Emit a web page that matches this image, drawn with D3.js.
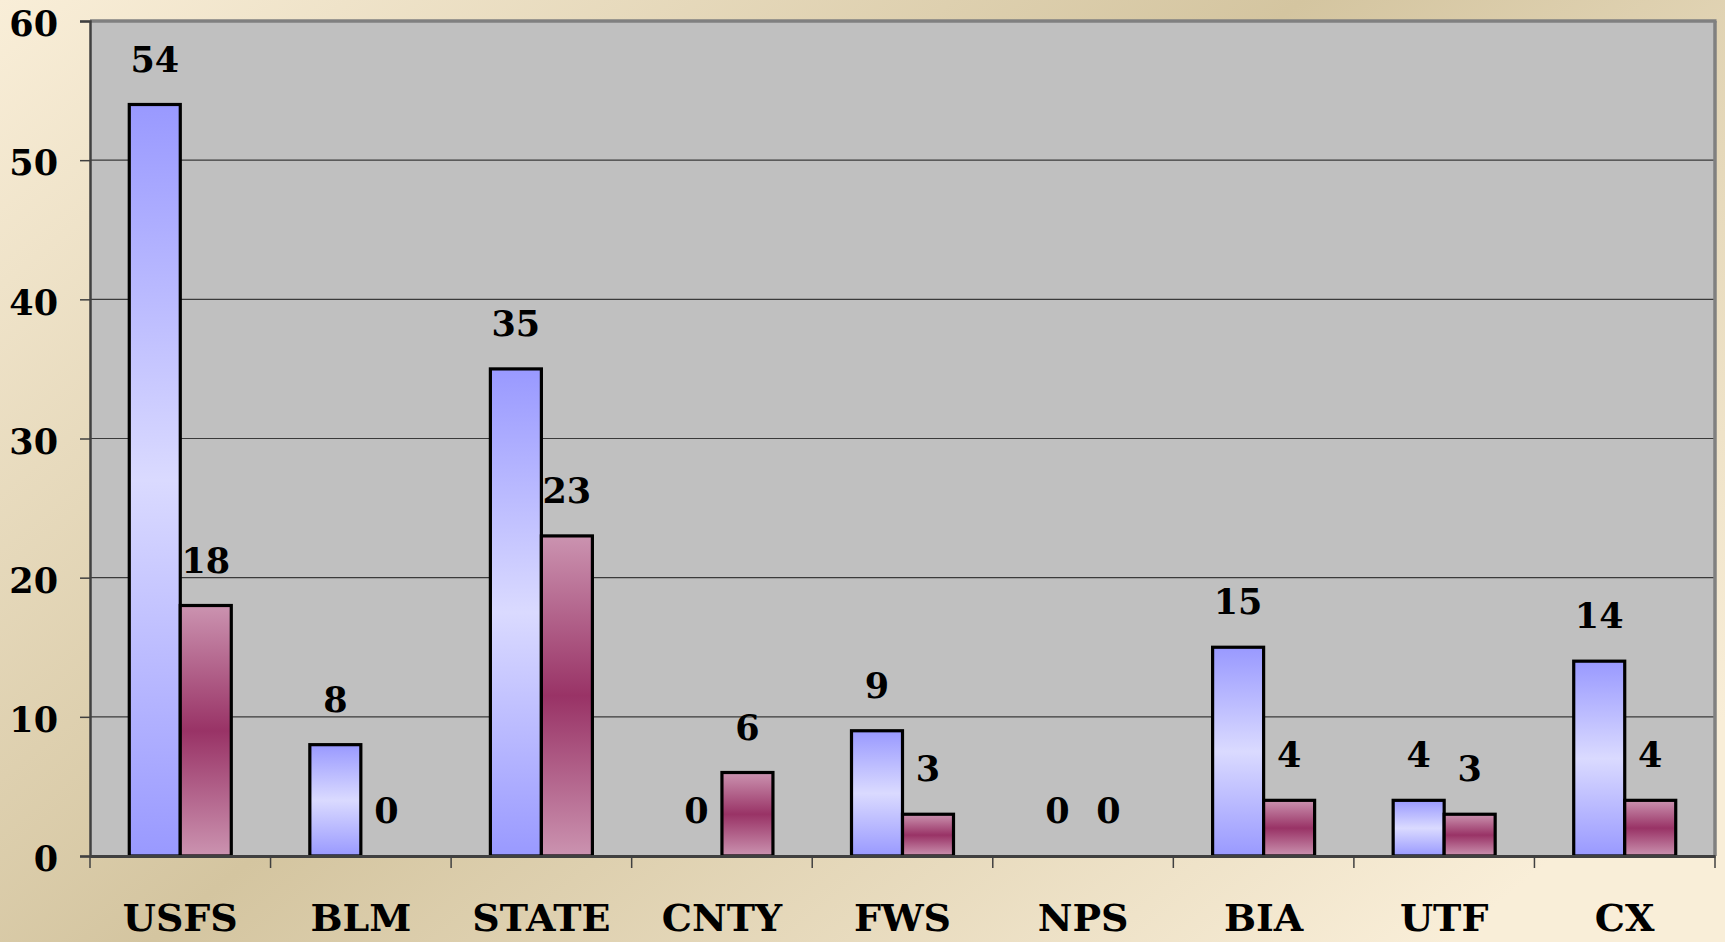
<!DOCTYPE html>
<html>
<head>
<meta charset="utf-8">
<script src="https://cdn.jsdelivr.net/npm/d3@7"></script>
<style>
html,body{margin:0;padding:0;overflow:hidden;}
svg{display:block;}
</style>
</head>
<body>
<svg id="chart" width="1725" height="942"></svg>
<script>
const categories = ["USFS","BLM","STATE","CNTY","FWS","NPS","BIA","UTF","CX"];
const seriesNames = ["Series 1","Series 2"];
const series1 = [54, 8, 35, 0, 9, 0, 15, 4, 14];
const series2 = [18, 0, 23, 6, 3, 0, 4, 3, 4];
const yTicks = [0,10,20,30,40,50,60];

const W = 1725, H = 942;
const m = {left: 90, right: 10, top: 21, bottom: 86};
const svg = d3.select("#chart");
const defs = svg.append("defs");

// background gradient
const bg = defs.append("linearGradient").attr("id","bg")
  .attr("gradientUnits","userSpaceOnUse")
  .attr("x1",0).attr("y1",0).attr("x2",1044).attr("y2",1276);
bg.append("stop").attr("offset","0").attr("stop-color","#f9eed8");
bg.append("stop").attr("offset","0.5").attr("stop-color","#d4c5a0");
bg.append("stop").attr("offset","1").attr("stop-color","#f9eed8");
svg.append("rect").attr("width",W).attr("height",H).attr("fill","url(#bg)");

const gBlue = defs.append("linearGradient").attr("id","gBlue").attr("x1",0).attr("y1",0).attr("x2",0).attr("y2",1);
gBlue.append("stop").attr("offset","0").attr("stop-color","#9999ff");
gBlue.append("stop").attr("offset","0.5").attr("stop-color","#dadaff");
gBlue.append("stop").attr("offset","1").attr("stop-color","#9999ff");
const gPink = defs.append("linearGradient").attr("id","gPink").attr("x1",0).attr("y1",0).attr("x2",0).attr("y2",1);
gPink.append("stop").attr("offset","0").attr("stop-color","#cb93b0");
gPink.append("stop").attr("offset","0.5").attr("stop-color","#993366");
gPink.append("stop").attr("offset","1").attr("stop-color","#cb93b0");
const fills = ["url(#gBlue)","url(#gPink)"];

const plotL = m.left, plotR = W - m.right, plotT = m.top, plotB = H - m.bottom;
const x0 = d3.scaleBand().domain(categories).range([plotL, plotR]).paddingInner(0).paddingOuter(0);
const x1 = d3.scaleBand().domain(seriesNames).range([0, x0.bandwidth()]).paddingInner(0).paddingOuter(0.77);
const y = d3.scaleLinear().domain([0,60]).range([plotB, plotT]);

// plot area
svg.append("rect").attr("x",plotL).attr("y",plotT).attr("width",plotR-plotL).attr("height",plotB-plotT).attr("fill","#c0c0c0");

// gridlines
svg.append("g").selectAll("line").data(yTicks.filter(d=>d>0 && d<60)).join("line")
  .attr("x1",plotL).attr("x2",plotR).attr("y1",d=>y(d)).attr("y2",d=>y(d))
  .attr("stroke","#3a3a3a").attr("stroke-width",1.2);

// borders top/right
svg.append("line").attr("x1",plotL).attr("x2",plotR+1.5).attr("y1",plotT).attr("y2",plotT).attr("stroke","#808080").attr("stroke-width",3.5);
svg.append("line").attr("x1",plotR).attr("x2",plotR).attr("y1",plotT).attr("y2",plotB).attr("stroke","#808080").attr("stroke-width",3.5);

// bars
const data = categories.map((c,i)=>({cat:c, vals:[series1[i], series2[i]]}));
const groups = svg.append("g").selectAll("g").data(data).join("g")
  .attr("transform", d=>`translate(${x0(d.cat)},0)`);
groups.selectAll("rect").data(d=>d.vals.map((v,j)=>({v, s:seriesNames[j], j}))).join("rect")
  .filter(d=>d.v>0)
  .attr("x", d=>x1(d.s)).attr("width", x1.bandwidth())
  .attr("y", d=>y(d.v)).attr("height", d=>y(0)-y(d.v))
  .attr("fill", d=>fills[d.j]).attr("stroke","#000").attr("stroke-width",3.2);

// value labels
groups.selectAll("text").data(d=>d.vals.map((v,j)=>({v, s:seriesNames[j], j}))).join("text")
  .attr("x", d=>x1(d.s)+x1.bandwidth()/2)
  .attr("y", d=>y(d.v)-33)
  .attr("text-anchor","middle")
  .attr("font-family","'DejaVu Serif', serif").attr("font-weight","bold").attr("font-size",35)
  .attr("fill","#000")
  .text(d=>d.v);

// y axis
const yAxis = d3.axisLeft(y).tickValues(yTicks).tickSize(10).tickPadding(22).tickFormat(d3.format("d"));
const gy = svg.append("g").attr("transform",`translate(${plotL},0)`).call(yAxis);
gy.select(".domain").attr("stroke","#404040").attr("stroke-width",2.5);
gy.selectAll(".tick line").attr("stroke","#404040").attr("stroke-width",1.5);
gy.selectAll(".tick text").attr("font-family","'DejaVu Serif', serif").attr("font-weight","bold")
  .attr("font-size",35).attr("fill","#000").attr("dy","0.42em");

// x axis
const xAxis = d3.axisBottom(x0).tickSize(0).tickPadding(0);
const gx = svg.append("g").attr("transform",`translate(0,${plotB})`).call(xAxis);
gx.select(".domain").attr("stroke","#404040").attr("stroke-width",3);
gx.selectAll(".tick text").attr("font-family","'DejaVu Serif', serif").attr("font-weight","bold")
  .attr("font-size",38).attr("fill","#000").attr("y",75).attr("dy",0);
// tick marks at band edges
const edges = categories.map(c=>x0(c)).concat([x0.range()[1]]);
gx.append("g").selectAll("line").data(edges).join("line")
  .attr("x1",d=>d).attr("x2",d=>d).attr("y1",0).attr("y2",12)
  .attr("stroke","#404040").attr("stroke-width",1.5);
</script>
</body>
</html>
